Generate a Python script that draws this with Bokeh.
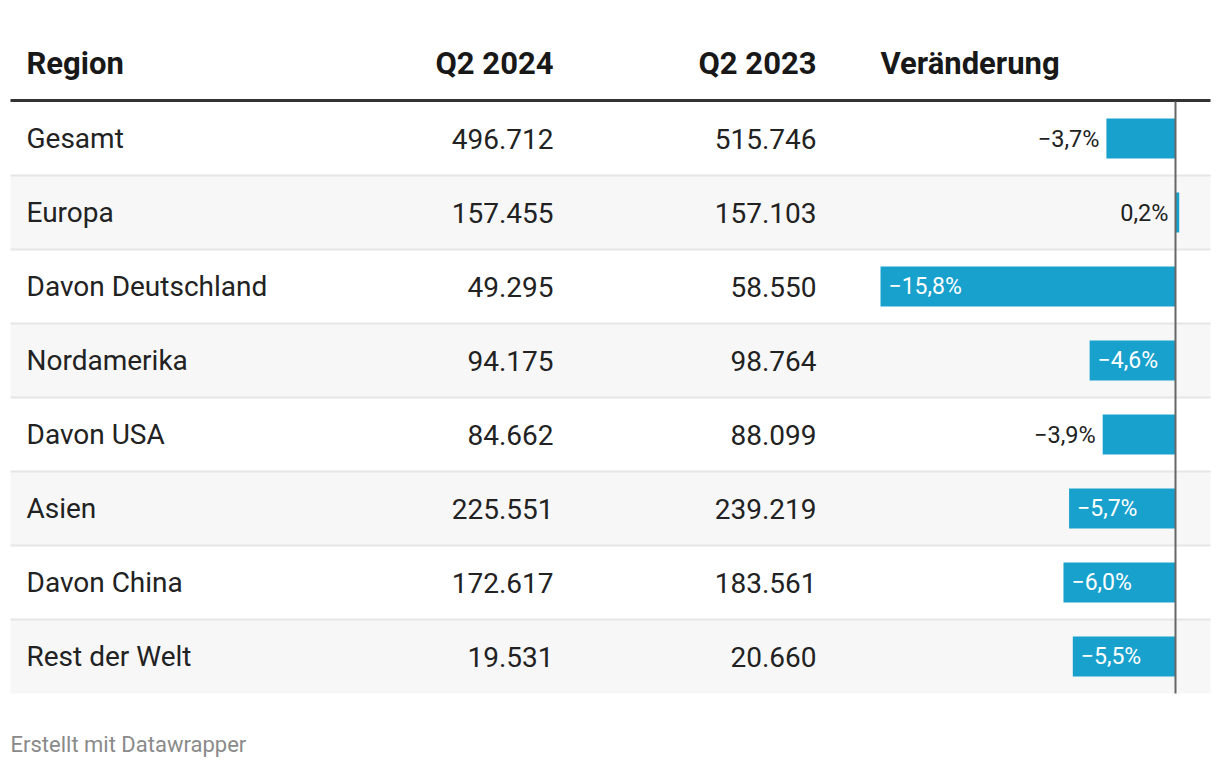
from bokeh.plotting import figure
from bokeh.models import Range1d, ColumnDataSource
from bokeh.core.properties import value
from bokeh.embed import file_html
from bokeh.resources import INLINE

# ---- data ----
regions = ["Gesamt", "Europa", "Davon Deutschland", "Nordamerika", "Davon USA",
           "Asien", "Davon China", "Rest der Welt"]
q2_2024 = [496712, 157455, 49295, 94175, 84662, 225551, 172617, 19531]
q2_2023 = [515746, 157103, 58550, 98764, 88099, 239219, 183561, 20660]
change_pct = [-3.7, 0.2, -15.8, -4.6, -3.9, -5.7, -6.0, -5.5]
headers = ["Region", "Q2 2024", "Q2 2023", "Veränderung"]
footer = "Erstellt mit Datawrapper"

# ---- layout ----
W, H = 1212, 760
X0, Y0 = 0, 0
TABLE_L, TABLE_R = 10, 1210
HEADER_Y = 63
HEADER_LINE_Y = 100
ROW_TOP = 101
ROW_H = 74
ZERO_PX = 1175
PX_PER_PCT = 18.67
BAR_H = 40
FONT = "Roboto"
BAR_COLOR = "#18a1cd"

def fmt_de(n):
    return f"{n:,}".replace(",", ".")

def fmt_pct(v):
    s = f"{abs(v):.1f}".replace(".", ",") + "%"
    return ("\u2212" + s) if v < 0 else s

p = figure(width=W, height=H, output_backend="svg", toolbar_location=None,
           x_range=Range1d(X0, X0 + W), y_range=Range1d(Y0 + H, Y0),
           min_border=0)
p.axis.visible = False
p.grid.visible = False
p.outline_line_color = None
p.background_fill_color = "white"
p.border_fill_color = "white"

pct_start = (X0 - ZERO_PX) / PX_PER_PCT
pct_end = (X0 + W - ZERO_PX) / PX_PER_PCT
p.extra_x_ranges = {"pct": Range1d(pct_start, pct_end)}

n = len(regions)
row_centers = [ROW_TOP + ROW_H * (i + 0.5) for i in range(n)]

# row shading
shade_idx = [i for i in range(n) if i % 2 == 1]
p.quad(left=[TABLE_L] * len(shade_idx), right=[TABLE_R] * len(shade_idx),
       top=[ROW_TOP + ROW_H * i for i in shade_idx],
       bottom=[ROW_TOP + ROW_H * (i + 1) for i in shade_idx],
       fill_color="#f7f7f7", line_color=None)

# row separators
for i in range(1, n):
    yy = ROW_TOP + ROW_H * i
    p.line([TABLE_L, TABLE_R], [yy, yy], line_color="#e6e6e6", line_width=2)

# header line
p.line([TABLE_L, TABLE_R], [HEADER_LINE_Y, HEADER_LINE_Y], line_color="#333333", line_width=3)

# headers
hx = [26, 553, 816, 880]
halign = ["left", "right", "right", "left"]
for t, x, a in zip(headers, hx, halign):
    p.text(x=[x], y=[HEADER_Y], text=[t], text_font=value(FONT),
           text_font_size=value("31px"), text_font_style="bold",
           text_color="#181818", text_align=a, text_baseline="middle")

src = ColumnDataSource(dict(
    y=row_centers, region=regions,
    a=[fmt_de(v) for v in q2_2024], b=[fmt_de(v) for v in q2_2023],
    pct=change_pct, zero=[0] * n,
    top=[c - BAR_H / 2 for c in row_centers],
    bottom=[c + BAR_H / 2 for c in row_centers],
))
common = dict(text_font=value(FONT), text_font_size=value("28px"),
              text_color="#222222", text_baseline="middle")
p.text(x=26, y="y", text="region", source=src, text_align="left", **common)
p.text(x=553, y="y", text="a", source=src, text_align="right", **common)
p.text(x=816, y="y", text="b", source=src, text_align="right", **common)

# bars
p.quad(left="pct", right="zero", top="top", bottom="bottom", source=src,
       fill_color=BAR_COLOR, line_color=None, x_range_name="pct")

# zero line
p.line([0, 0], [ROW_TOP, ROW_TOP + ROW_H * n], line_color="#666666",
       line_width=2, x_range_name="pct")

# bar labels
in_x, in_y, in_t = [], [], []
out_x, out_y, out_t = [], [], []
for v, c in zip(change_pct, row_centers):
    width_px = abs(v) * PX_PER_PCT
    left = min(v, 0)
    if width_px > 80:
        in_x.append(left + 8 / PX_PER_PCT); in_y.append(c); in_t.append(fmt_pct(v))
    else:
        out_x.append(left - 7 / PX_PER_PCT); out_y.append(c); out_t.append(fmt_pct(v))
p.text(x=in_x, y=in_y, text=in_t, x_range_name="pct", text_font=value(FONT),
       text_font_size=value("23px"), text_color="white", text_align="left",
       text_baseline="middle")
p.text(x=out_x, y=out_y, text=out_t, x_range_name="pct", text_font=value(FONT),
       text_font_size=value("23.5px"), text_color="#222222", text_align="right",
       text_baseline="middle")

# footer
p.text(x=[10], y=[744], text=[footer], text_font=value(FONT),
       text_font_size=value("22px"), text_color="#8a8a8a", text_align="left",
       text_baseline="middle")

open("out.html", "w").write(file_html(p, INLINE))
